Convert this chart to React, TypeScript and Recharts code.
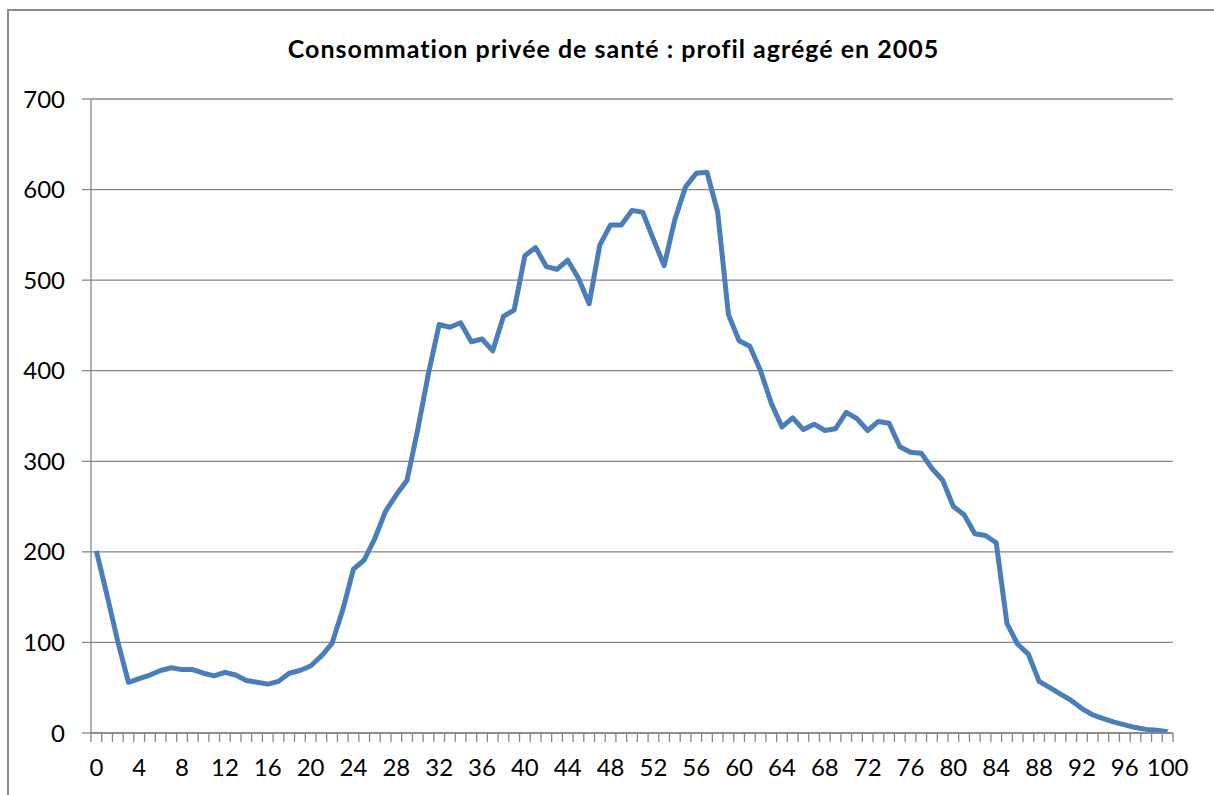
import { LineChart, Line, XAxis, YAxis, CartesianGrid } from 'recharts';

// âge 0 → 100
const ages: number[] = Array.from({ length: 101 }, (_, i) => i);

// consommation privée de santé, profil agrégé 2005
const consommation: number[] = [
  201, 152, 101, 56, 60, 64, 69, 72, 70, 70,
  66, 63, 67, 64, 58, 56, 54, 57, 66, 69,
  74, 85, 99, 136, 181, 191, 215, 245, 263, 279,
  335, 397, 451, 448, 453, 432, 435, 422, 460, 467,
  527, 536, 515, 512, 522, 502, 474, 539, 561, 561,
  577, 575, 545, 516, 567, 603, 618, 619, 575, 462,
  433, 427, 400, 364, 338, 348, 335, 341, 334, 336,
  354, 347, 334, 344, 342, 316, 310, 309, 292, 279,
  250, 241, 220, 218, 210, 121, 98, 87, 57, 50,
  43, 36, 27, 20, 16, 12, 9, 6, 4, 3,
  1.5,
];

const yTicks = [0, 100, 200, 300, 400, 500, 600, 700];
const xLabels = [0, 4, 8, 12, 16, 20, 24, 28, 32, 36, 40, 44, 48, 52, 56, 60, 64, 68, 72, 76, 80, 84, 88, 92, 96, 100];
// graduations entre les catégories
const xBounds = Array.from({ length: 102 }, (_, i) => i - 0.5);

const TITLE = 'Consommation privée de santé : profil agrégé en 2005';
const FONT = 'Lato, "Noto Sans", sans-serif';
const GRID = '#868686';

const chartData = ages.map((age, i) => ({ age, value: consommation[i] }));

const AgeTick = (props: any) => {
  const { x, y, payload } = props;
  const v = payload.value as number;
  if (Number.isInteger(v)) {
    return (
      <text x={x} y={y + 43} textAnchor="middle" fontSize={24} fontFamily={FONT} fill="#000">
        {v}
      </text>
    );
  }
  return <line x1={x} x2={x} y1={y} y2={y + 9} stroke={GRID} strokeWidth={1.3} />;
};

export default function App() {
  return (
    <div style={{ position: 'fixed', inset: 0, overflow: 'hidden', background: '#fff' }}>
      {/* cadre du graphique */}
      <div
        style={{
          position: 'absolute',
          left: 7,
          top: 9,
          width: 1400,
          height: 1000,
          borderLeft: '2px solid #8c8c8c',
          borderTop: '2px solid #8c8c8c',
        }}
      />
      <div
        style={{
          position: 'absolute',
          left: 0,
          width: 1227,
          top: 34,
          textAlign: 'center',
          fontFamily: FONT,
          fontWeight: 700,
          fontSize: 25,
          letterSpacing: 1,
          lineHeight: '28px',
          color: '#000',
        }}
      >
        {TITLE}
      </div>
      <div style={{ position: 'absolute', left: 0, top: 0 }}>
        <LineChart width={1214} height={795} data={chartData} margin={{ top: 99, right: 41, bottom: 22, left: 0 }}>
          <CartesianGrid vertical={false} stroke={GRID} strokeWidth={1.3} />
          <XAxis
            dataKey="age"
            type="number"
            domain={[-0.5, 100.5]}
            ticks={[...xBounds, ...xLabels]}
            interval={0}
            tick={<AgeTick />}
            tickLine={false}
            tickSize={0}
            tickMargin={0}
            height={40}
            axisLine={{ stroke: GRID, strokeWidth: 1.3 }}
          />
          <YAxis
            domain={[0, 700]}
            ticks={yTicks}
            interval={0}
            width={91}
            tickSize={9}
            tickMargin={17}
            tick={{ fontSize: 24, fontFamily: FONT, fill: '#000' }}
            tickLine={{ stroke: GRID, strokeWidth: 1.3 }}
            axisLine={{ stroke: GRID, strokeWidth: 1.3 }}
          />
          <Line
            type="linear"
            dataKey="value"
            stroke="#4a7ebb"
            strokeWidth={5}
            strokeLinejoin="round"
            dot={false}
            isAnimationActive={false}
          />
        </LineChart>
      </div>
    </div>
  );
}
